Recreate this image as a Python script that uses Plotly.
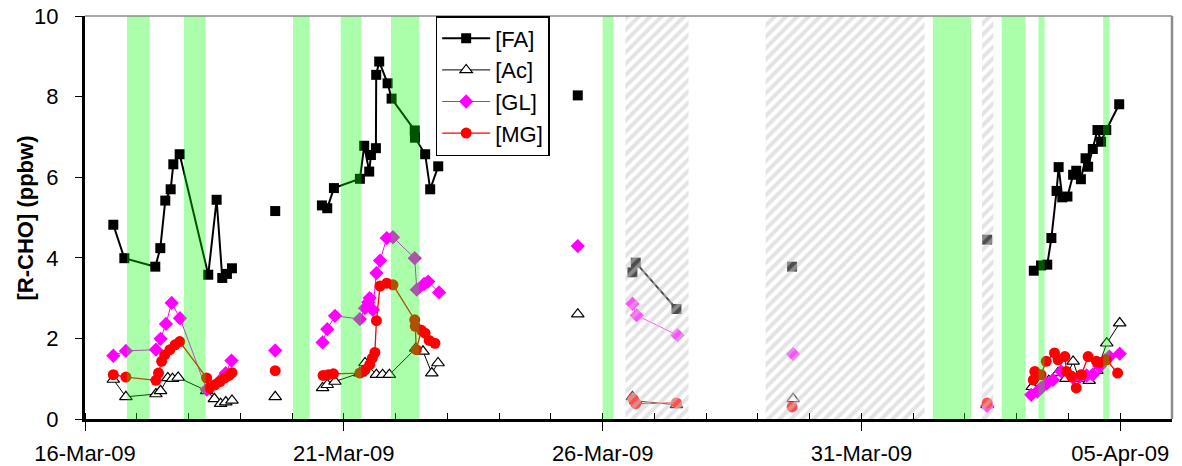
import pandas as pd
import plotly.graph_objects as go

BASE = pd.Timestamp("2009-03-16 00:00")  # day offsets below are days since this instant

# ---------------- data (day offset, value); None breaks the line ----------------
fa_day = [0.547, 0.76, 1.358, 1.455, 1.551, 1.655, 1.706, 1.829, 2.381, 2.543, 2.652, 2.742, 2.839, None,
          3.675, None,
          4.577, 4.68, 4.809, 5.311, 5.394, 5.491, 5.524, 5.62, 5.626, 5.684, 5.846, 5.923, 6.37, 6.375, 6.572, 6.669, 6.824, None,
          9.52, None,
          10.576, 10.64, 11.427, None,
          13.66, None,
          17.43, None,
          18.33, 18.47, 18.59, 18.67, 18.77, 18.81, 18.88, 18.98, 19.09, 19.15, 19.24, 19.33, 19.38, 19.47, 19.56, 19.63, 19.73, 19.98]
fa_val = [4.82, 3.99, 3.78, 4.24, 5.42, 5.70, 6.32, 6.57, 3.58, 5.44, 3.50, 3.60, 3.74, None,
          5.16, None,
          5.30, 5.23, 5.73, 5.96, 6.78, 6.14, 6.55, 6.72, 8.54, 8.87, 8.33, 7.95, 7.16, 6.98, 6.57, 5.70, 6.27, None,
          8.03, None,
          3.64, 3.88, 2.73, None,
          3.78, None,
          4.45, None,
          3.68, 3.81, 3.83, 4.49, 5.66, 6.25, 5.50, 5.52, 6.06, 6.16, 5.95, 6.47, 6.26, 6.70, 7.17, 6.88, 7.17, 7.81]

ac_day = [0.547, 0.79, 1.37, 1.46, 1.60, 1.69, 1.80, 2.35, 2.50, 2.62, 2.72, 2.84, None,
          3.675, None,
          4.59, 4.68, 4.83, 5.31, 5.41, 5.63, 5.75, 5.88, 6.39, 6.53, 6.70, 6.82, None,
          9.52, None,
          10.576, 10.64, 11.427, None,
          13.68, None,
          17.43, None,
          18.30, 18.47, 18.62, 18.80, 18.95, 19.09, 19.20, 19.40, 19.55, 19.74, 19.99]
ac_val = [0.98, 0.55, 0.62, 0.70, 1.02, 1.00, 1.03, 0.70, 0.50, 0.38, 0.42, 0.46, None,
          0.55, None,
          0.77, 0.85, 0.93, 1.14, 1.39, 1.10, 1.10, 1.10, 1.75, 1.68, 1.14, 1.39, None,
          2.60, None,
          0.55, 0.45, 0.35, None,
          0.50, None,
          0.35, None,
          0.80, 0.90, 0.95, 1.15, 1.00, 1.43, 1.00, 0.95, 1.20, 1.88, 2.38]

gl_day = [0.547, 0.79, 1.37, 1.46, 1.564, 1.674, 1.835, 2.35, 2.62, 2.72, 2.83, None,
          3.675, None,
          4.59, 4.68, 4.83, 5.31, 5.41, 5.47, 5.50, 5.56, 5.63, 5.70, 5.83, 5.95, 6.37, 6.41, 6.55, 6.63, 6.84, None,
          9.52, None,
          10.576, 10.66, 11.446, None,
          13.68, None,
          17.43, None,
          18.28, 18.40, 18.47, 18.58, 18.70, 18.86, 19.09, 19.22, 19.35, 19.47, 19.60, 19.70, 19.79, 19.99]
gl_val = [1.57, 1.69, 1.72, 1.99, 2.36, 2.88, 2.50, 0.73, 0.97, 1.14, 1.45, None,
          1.70, None,
          1.90, 2.23, 2.56, 2.48, 2.75, 2.90, 3.00, 2.71, 3.62, 3.93, 4.49, 4.51, 3.99, 3.21, 3.35, 3.41, 3.14, None,
          4.29, None,
          2.86, 2.57, 2.08, None,
          1.61, None,
          0.32, None,
          0.60, 0.68, 0.77, 0.88, 0.97, 1.18, 1.02, 1.06, 1.08, 1.10, 1.30, 1.45, 1.55, 1.62]

mg_day = [0.547, 0.79, 1.37, 1.42, 1.48, 1.54, 1.64, 1.74, 1.83, 2.35, 2.41, 2.51, 2.61, 2.70, 2.78, 2.84, None,
          3.675, None,
          4.60, 4.70, 4.80, 5.31, 5.41, 5.50, 5.55, 5.60, 5.63, 5.70, 5.83, 5.95, 6.37, 6.38, 6.40, 6.50, 6.57, 6.65, 6.76, None,
          10.59, 10.64, 11.427, None,
          13.66, None,
          17.43, None,
          18.32, 18.35, 18.47, 18.57, 18.73, 18.80, 18.93, 18.96, 19.06, 19.15, 19.25, 19.38, 19.54, 19.60, 19.73, 19.95]
mg_val = [1.10, 1.04, 0.96, 1.14, 1.43, 1.59, 1.72, 1.84, 1.92, 1.02, 0.77, 0.85, 0.93, 1.02, 1.08, 1.15, None,
          1.20, None,
          1.08, 1.10, 1.12, 1.14, 1.22, 1.35, 1.51, 1.65, 2.44, 3.30, 3.37, 3.33, 2.46, 2.30, 1.72, 2.20, 2.13, 1.95, 1.88, None,
          0.50, 0.38, 0.40, None,
          0.30, None,
          0.40, None,
          0.97, 1.18, 1.10, 1.43, 1.64, 1.47, 1.55, 1.18, 1.06, 0.77, 1.10, 1.55, 1.43, 1.40, 1.47, 1.14]

# night / event periods (day offsets)
green_start = [0.81, 1.91, 4.02, 4.94, 5.91, 10.00, 16.38, 17.71, 18.42, 19.67]
green_end   = [1.25, 2.33, 4.34, 5.34, 6.46, 10.21, 17.12, 18.17, 18.54, 19.79]
hatch_start = [10.44, 13.15, 17.33]
hatch_end   = [11.66, 16.22, 17.55]

tick_days = [0, 5, 10, 15, 20]
tick_text = ["16-Mar-09", "21-Mar-09", "26-Mar-09", "31-Mar-09", "05-Apr-09"]
x_range_days = [0, 21]
y_title = "[R-CHO] (ppbw)"


def to_dt(days):
    return [None if d is None else BASE + pd.Timedelta(days=d) for d in days]


FONT = "Liberation Sans, Arial, sans-serif"
fig = go.Figure()

series = [
    ("[FA]", fa_day, fa_val, dict(symbol="square", size=10, color="black"), dict(color="black", width=2)),
    ("[Ac]", ac_day, ac_val, dict(symbol="triangle-up", size=11, color="white", line=dict(color="black", width=1.2)),
     dict(color="black", width=1)),
    ("[GL]", gl_day, gl_val, dict(symbol="diamond", size=11, color="#ff00ff"), dict(color="#ff00ff", width=1)),
    ("[MG]", mg_day, mg_val, dict(symbol="circle", size=11, color="#ff0000"), dict(color="#ff0000", width=1.3)),
]
for name, d, v, mk, ln in series:
    fig.add_trace(go.Scatter(x=to_dt(d), y=v, name=name, mode="lines+markers",
                             marker=mk, line=ln, connectgaps=False))

# hatched periods drawn over the data
hx, hy = [], []
for s, e in zip(hatch_start, hatch_end):
    hx += [s, e, e, s, s, None]
    hy += [0, 0, 10, 10, 0, None]
fig.add_trace(go.Scatter(
    x=to_dt(hx), y=hy, mode="lines", line=dict(width=0), fill="toself",
    fillcolor="rgba(255,255,255,0.3)",
    fillpattern=dict(shape="/", fgcolor="rgb(200,200,200)", bgcolor="rgba(255,255,255,0.3)",
                     size=8, solidity=0.5),
    showlegend=False, hoverinfo="skip"))

shapes = []
for s, e in zip(green_start, green_end):
    shapes.append(dict(type="rect", xref="x", yref="paper",
                       x0=BASE + pd.Timedelta(days=s), x1=BASE + pd.Timedelta(days=e),
                       y0=0, y1=1, fillcolor="rgb(0,255,0)", opacity=0.33,
                       line=dict(width=0), layer="above"))
# grey frame on top and right
shapes.append(dict(type="line", xref="paper", yref="paper", x0=0, x1=1, y0=1, y1=1,
                   line=dict(color="#8c8c8c", width=1.5), layer="above"))
shapes.append(dict(type="line", xref="paper", yref="paper", x0=1, x1=1, y0=0, y1=1,
                   line=dict(color="#8c8c8c", width=2.5), layer="above"))

fig.update_layout(
    width=1182, height=466,
    margin=dict(l=85, r=10, t=16, b=47, autoexpand=False),
    paper_bgcolor="white", plot_bgcolor="white",
    font=dict(family=FONT, size=22, color="black"),
    shapes=shapes,
    annotations=[dict(text="<b>" + y_title + "</b>", xref="paper", yref="paper",
                      x=-0.0543, y=0.5, xanchor="center", yanchor="middle",
                      textangle=-90, showarrow=False,
                      font=dict(family=FONT, size=22, color="black"))],
    showlegend=True,
    legend=dict(x=0.3226, y=1.0, xanchor="left", yanchor="top",
                bgcolor="white", bordercolor="black", borderwidth=1.5,
                font=dict(family=FONT, size=22, color="black"),
                itemwidth=48, tracegroupgap=0),
    xaxis=dict(type="date", automargin=False,
               range=to_dt(x_range_days),
               tickvals=to_dt(tick_days), ticktext=tick_text,
               ticks="outside", ticklen=9, tickwidth=1, tickcolor="black",
               ticklabelstandoff=4,
               showline=True, linecolor="black", linewidth=3,
               showgrid=False, zeroline=False,
               tickfont=dict(family=FONT, size=22, color="black"),
               minor=dict(dtick=86400000, tick0=BASE, ticks="inside", ticklen=6,
                          tickcolor="black", tickwidth=1, showgrid=False)),
    yaxis=dict(range=[0, 10], dtick=2, tick0=0, automargin=False,
               ticks="outside", ticklen=7, tickwidth=1, tickcolor="black",
               ticklabelstandoff=12,
               showline=True, linecolor="black", linewidth=3,
               showgrid=False, zeroline=False,
               tickfont=dict(family=FONT, size=22, color="black")),
)

fig.write_html("out.html", config={"displayModeBar": False},
               post_script="document.body.style.margin='0px';document.body.style.overflow='hidden';")
